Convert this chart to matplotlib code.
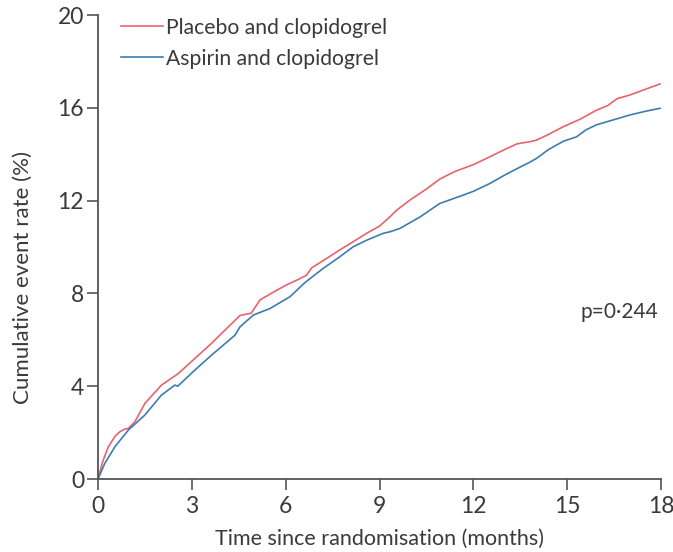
import matplotlib
matplotlib.use("Agg")
import matplotlib.pyplot as plt

plt.rcParams['font.family'] = ['Lato', 'DejaVu Sans']

# Placebo and clopidogrel (red)
placebo_t = [0, 0.15, 0.33, 0.55, 0.70, 0.85, 0.97, 1.18, 1.5, 2.03, 2.57, 3.10, 3.63,
             4.06, 4.54, 4.9, 5.18, 5.6, 6.0, 6.4, 6.67, 6.83, 7.3, 7.7, 8.16, 8.6, 9.0,
             9.34, 9.55, 10.0, 10.5, 10.93, 11.4, 12.0, 12.53, 13.0, 13.4, 13.81, 14.02,
             14.4, 14.88, 15.4, 15.94, 16.3, 16.6, 17.0, 17.5, 17.97]
placebo_y = [0, 0.75, 1.39, 1.85, 2.04, 2.15, 2.18, 2.47, 3.26, 4.05, 4.55, 5.2, 5.85,
             6.42, 7.05, 7.15, 7.72, 8.05, 8.35, 8.6, 8.79, 9.1, 9.5, 9.85, 10.23, 10.6, 10.9,
             11.31, 11.59, 12.05, 12.5, 12.93, 13.25, 13.55, 13.89, 14.2, 14.45, 14.54, 14.61,
             14.85, 15.19, 15.5, 15.9, 16.1, 16.4, 16.55, 16.8, 17.03]

# Aspirin and clopidogrel (blue)
aspirin_t = [0, 0.22, 0.54, 0.97, 1.5, 2.03, 2.46, 2.55, 3.10, 3.63, 4.38, 4.54, 4.97,
             5.5, 6.14, 6.6, 7.2, 7.7, 8.16, 8.6, 9.12, 9.34, 9.65, 10.3, 10.93, 11.6,
             12.0, 12.53, 13.0, 13.5, 13.81, 14.02, 14.4, 14.88, 15.3, 15.6, 15.94, 16.4,
             17.0, 17.5, 17.97]
aspirin_y = [0, 0.68, 1.39, 2.11, 2.76, 3.62, 4.05, 4.0, 4.70, 5.34, 6.2, 6.56, 7.07,
             7.35, 7.86, 8.45, 9.08, 9.55, 10.01, 10.3, 10.59, 10.66, 10.8, 11.3, 11.88, 12.2,
             12.4, 12.74, 13.1, 13.45, 13.66, 13.82, 14.2, 14.56, 14.75, 15.05, 15.27, 15.45,
             15.69, 15.85, 15.98]

x_ticks = [0, 3, 6, 9, 12, 15, 18]
y_ticks = [0, 4, 8, 12, 16, 20]

red = '#e8636c'
blue = '#3d7cb2'
txt = '#3a3a3a'
spine = '#555555'

fig = plt.figure(figsize=(6.73, 5.52), dpi=100)
ax = fig.add_axes([0.1456, 0.1322, 0.8366, 0.8406])

ax.plot(placebo_t, placebo_y, color=red, lw=1.2, label='Placebo and clopidogrel')
ax.plot(aspirin_t, aspirin_y, color=blue, lw=1.2, label='Aspirin and clopidogrel')

ax.set_xlim(0, 18)
ax.set_ylim(0, 20)
ax.set_xticks(x_ticks)
ax.set_yticks(y_ticks)
for s in ['top', 'right']:
    ax.spines[s].set_visible(False)
for s in ['left', 'bottom']:
    ax.spines[s].set_color(spine)
    ax.spines[s].set_linewidth(1.3)
ax.tick_params(axis='both', direction='out', length=8, width=1.2, color=spine,
               labelsize=16.5, labelcolor=txt, pad=2)
ax.tick_params(axis='x', pad=4)

ax.set_xlabel('Time since randomisation (months)', fontsize=15.5, color=txt)
ax.set_ylabel('Cumulative event rate (%)', fontsize=16, color=txt)
ax.xaxis.set_label_coords(0.5, -0.129, transform=ax.transAxes)
ax.yaxis.set_label_coords(-0.133, 0.435, transform=ax.transAxes)
ax.xaxis.label.set_va('center')
ax.yaxis.label.set_va('center')

ax.text(17.9, 7.2, 'p=0\u00b7244', ha='right', va='center', fontsize=15, color=txt)

leg = ax.legend(loc='upper left', bbox_to_anchor=(0.007, 1.035), frameon=False,
                handlelength=2.0, handletextpad=0.14, labelspacing=0.52, fontsize=15.2)
for t in leg.get_texts():
    t.set_color(txt)

fig.savefig('out.png', dpi=100)
